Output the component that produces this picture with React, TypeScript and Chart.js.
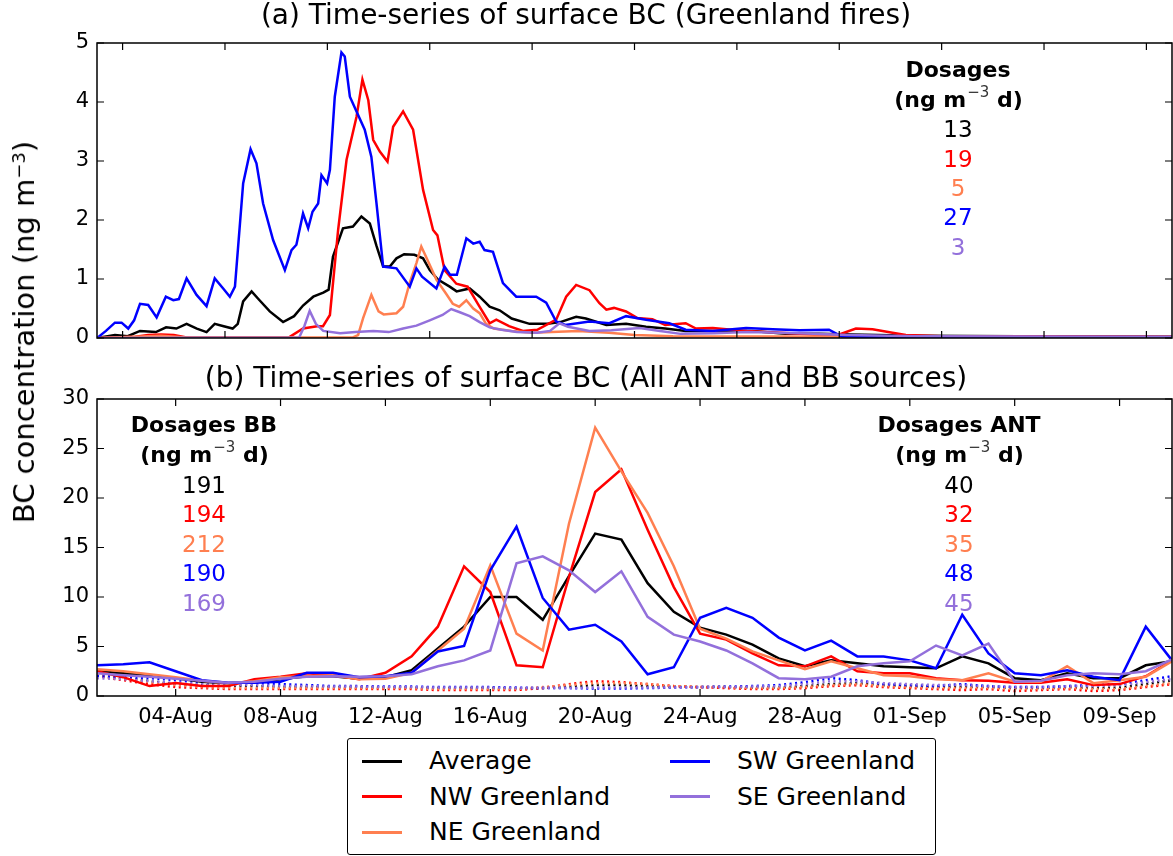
import React, { useEffect, useRef } from "react";
import { Chart, registerables } from "chart.js";

Chart.register(...registerables);

const FAMILY = "'DejaVu Sans', 'Bitstream Vera Sans', sans-serif";

const seriesNames = ["Average", "NW Greenland", "NE Greenland", "SW Greenland", "SE Greenland"];
const seriesColors = ["#000000", "#ff0000", "#ff7f50", "#0000ff", "#9370db"];

// ---------- Panel (a): Greenland fires (day since start, ng m-3) ----------
const fireAverage: [number, number][] = [
  [0, 0], [0.7, 0.05], [1.2, 0.03], [1.68, 0.12], [2.3, 0.1], [2.7, 0.18], [3.1, 0.16], [3.5, 0.24],
  [3.9, 0.16], [4.28, 0.1], [4.6, 0.24], [4.95, 0.2], [5.3, 0.16], [5.5, 0.24], [5.71, 0.62], [6.04, 0.79],
  [6.35, 0.64], [6.75, 0.45], [7.27, 0.27], [7.7, 0.37], [8.05, 0.55], [8.45, 0.7], [8.84, 0.77], [9.05, 0.82],
  [9.22, 1.38], [9.61, 1.86], [10.0, 1.89], [10.33, 2.06], [10.66, 1.94], [10.92, 1.56], [11.18, 1.21],
  [11.44, 1.21], [11.7, 1.35], [12.0, 1.42], [12.4, 1.41], [12.74, 1.35], [13.0, 1.15], [13.32, 0.99],
  [13.78, 0.87], [14.05, 0.79], [14.56, 0.84], [14.95, 0.7], [15.34, 0.53], [15.73, 0.47], [16.2, 0.33],
  [16.9, 0.24], [17.6, 0.24], [18.1, 0.27], [18.72, 0.36], [19.1, 0.33], [19.9, 0.22], [20.67, 0.24],
  [21.45, 0.19], [22.2, 0.16], [23.0, 0.12], [24.3, 0.12], [25.6, 0.12], [26.9, 0.07], [28.2, 0.07],
  [29.5, 0.06], [32, 0.04], [36, 0.03], [42, 0.02],
];
const fireNW: [number, number][] = [
  [0, 0], [1.5, 0.02], [2.0, 0.05], [2.5, 0.06], [3.0, 0.05], [3.5, 0.01], [7.5, 0.01], [8.05, 0.16],
  [8.6, 0.2], [8.83, 0.2], [9.1, 0.39], [9.42, 1.83], [9.75, 3.02], [10.14, 3.75], [10.37, 4.38], [10.6, 4.03],
  [10.79, 3.36], [11.05, 3.16], [11.35, 2.99], [11.57, 3.58], [11.96, 3.84], [12.35, 3.53], [12.74, 2.51],
  [13.13, 1.83], [13.3, 1.74], [13.58, 1.15], [14.04, 0.92], [14.48, 0.87], [14.88, 0.58], [15.34, 0.25],
  [15.6, 0.31], [16.1, 0.2], [16.64, 0.12], [17.2, 0.14], [17.94, 0.31], [18.33, 0.7], [18.72, 0.9],
  [19.24, 0.81], [19.63, 0.59], [19.9, 0.48], [20.2, 0.51], [20.67, 0.45], [21.1, 0.34], [21.7, 0.32],
  [22.2, 0.22], [23.0, 0.25], [23.4, 0.16], [24.06, 0.17], [24.8, 0.14], [25.4, 0.12], [26.7, 0.09],
  [28.0, 0.06], [29.0, 0.06], [29.65, 0.16], [30.3, 0.15], [31.08, 0.09], [31.6, 0.05], [33, 0.03],
  [36, 0.03], [42, 0.02],
];
const fireNE: [number, number][] = [
  [0, 0], [1.5, 0.02], [2.5, 0.04], [3.5, 0.01], [10.0, 0.01], [10.2, 0.05], [10.4, 0.34], [10.72, 0.73],
  [11.0, 0.45], [11.2, 0.4], [11.7, 0.42], [11.96, 0.53], [12.22, 0.94], [12.48, 1.27], [12.67, 1.55],
  [12.85, 1.38], [13.26, 0.99], [13.64, 0.75], [13.9, 0.58], [14.15, 0.53], [14.43, 0.64], [14.7, 0.5],
  [14.95, 0.42], [15.2, 0.24], [15.5, 0.16], [16.2, 0.12], [17.0, 0.09], [18.8, 0.12], [20.0, 0.09],
  [21.0, 0.05], [22.5, 0.03], [30, 0.02], [42, 0.01],
];
const fireSW: [number, number][] = [
  [0, 0], [0.35, 0.12], [0.7, 0.26], [0.96, 0.26], [1.22, 0.16], [1.45, 0.3], [1.68, 0.58], [2.0, 0.56],
  [2.33, 0.35], [2.69, 0.7], [2.98, 0.64], [3.2, 0.66], [3.5, 1.01], [3.89, 0.73], [4.28, 0.54], [4.6, 1.01],
  [4.93, 0.84], [5.19, 0.7], [5.39, 0.87], [5.71, 2.62], [6.0, 3.2], [6.23, 2.96], [6.49, 2.28], [6.88, 1.66],
  [7.34, 1.15], [7.6, 1.49], [7.79, 1.58], [8.05, 2.11], [8.25, 1.86], [8.42, 2.14], [8.64, 2.28],
  [8.77, 2.76], [8.99, 2.62], [9.1, 2.85], [9.29, 4.09], [9.55, 4.84], [9.68, 4.77], [9.88, 4.09],
  [10.14, 3.84], [10.46, 3.53], [10.72, 3.07], [10.92, 2.28], [11.18, 1.21], [11.7, 1.18], [12.22, 0.87],
  [12.48, 1.18], [12.7, 1.04], [13.26, 0.84], [13.58, 1.21], [13.8, 1.07], [14.06, 1.07], [14.43, 1.69],
  [14.7, 1.6], [14.95, 1.63], [15.14, 1.49], [15.47, 1.46], [15.86, 0.93], [16.38, 0.7], [17.16, 0.7],
  [17.55, 0.6], [17.94, 0.28], [18.3, 0.22], [19.24, 0.28], [20.02, 0.25], [20.67, 0.37], [21.45, 0.31],
  [22.36, 0.25], [23.0, 0.14], [24.06, 0.12], [25.36, 0.17], [26.4, 0.15], [27.44, 0.13], [28.6, 0.14],
  [28.9, 0.07], [29.1, 0.03], [30, 0.02], [35, 0.01], [42, 0.01],
];
const fireSE: [number, number][] = [
  [0, 0], [7.9, 0.01], [8.1, 0.2], [8.31, 0.46], [8.55, 0.24], [8.84, 0.12], [9.5, 0.08], [10.1, 0.1],
  [10.8, 0.12], [11.4, 0.1], [11.96, 0.16], [12.48, 0.21], [13.0, 0.3], [13.5, 0.39], [13.84, 0.49],
  [14.15, 0.44], [14.56, 0.37], [14.95, 0.27], [15.34, 0.18], [15.8, 0.14], [16.4, 0.1], [17.2, 0.09],
  [17.7, 0.12], [18.07, 0.25], [18.4, 0.19], [19.24, 0.12], [20.1, 0.13], [21.2, 0.17], [22.0, 0.12],
  [22.8, 0.07], [24.1, 0.08], [25.4, 0.1], [26.7, 0.09], [28.0, 0.07], [29.3, 0.05], [32, 0.03], [42, 0.02],
];
const fireSeries = [fireAverage, fireNW, fireNE, fireSW, fireSE];

const dosagesFire = [13, 19, 5, 27, 3];
const dosagesBB = [191, 194, 212, 190, 169];
const dosagesANT = [40, 32, 35, 48, 45];

const xTicksA = [1, 5, 9, 13, 17, 21, 25, 29, 33, 37, 41];
const yTicksA = [0, 1, 2, 3, 4, 5];

// ---------- Panel (b): daily values from 01-Aug (index 0) to 11-Sep (index 41) ----------
const totalAverage = [2.5, 2.3, 2.1, 1.8, 1.45, 1.3, 1.4, 1.7, 2.0, 2.0, 1.75, 1.9, 2.6, 4.8, 7.0, 10.0, 10.0, 7.7,
  12.1, 16.4, 15.8, 11.4, 8.5, 6.9, 6.2, 5.2, 3.8, 3.0, 3.6, 3.3, 3.0, 2.9, 2.8, 4.0, 3.3, 1.8, 1.6, 2.3, 1.8, 1.8, 3.1, 3.5];
const totalNW = [2.5, 1.9, 1.0, 1.3, 1.0, 1.0, 1.7, 1.95, 2.3, 2.1, 1.7, 2.35, 4.0, 7.0, 13.1, 10.5, 3.1, 2.9,
  12.0, 20.6, 22.9, 16.8, 11.0, 6.3, 5.7, 4.3, 3.1, 3.0, 4.0, 2.5, 2.3, 2.3, 1.8, 1.6, 1.55, 1.35, 1.35, 1.7, 1.1, 1.2, 2.0, 3.6];
const totalNE = [2.7, 2.5, 2.2, 1.9, 1.55, 1.3, 1.5, 1.9, 2.0, 2.1, 1.7, 1.75, 2.35, 4.6, 6.8, 13.2, 6.3, 4.6,
  17.4, 27.1, 22.7, 18.5, 13.1, 6.8, 5.8, 4.5, 3.6, 2.7, 3.5, 2.8, 2.1, 2.0, 1.7, 1.6, 2.3, 1.45, 1.45, 3.0, 1.3, 1.6, 1.95, 3.5];
const totalSW = [3.1, 3.2, 3.4, 2.5, 1.6, 1.35, 1.35, 1.45, 2.35, 2.35, 1.9, 2.0, 2.35, 4.5, 5.05, 12.7, 17.1, 9.9,
  6.7, 7.2, 5.5, 2.2, 2.9, 7.9, 8.9, 7.9, 5.9, 4.6, 5.6, 4.0, 4.0, 3.6, 2.8, 8.2, 4.3, 2.3, 2.1, 2.6, 1.95, 1.6, 7.0, 3.6];
const totalSE = [2.3, 2.1, 1.95, 1.75, 1.55, 1.35, 1.45, 1.75, 1.95, 2.0, 1.95, 2.0, 2.2, 3.0, 3.6, 4.6, 13.4, 14.1,
  12.7, 10.5, 12.6, 8.0, 6.2, 5.5, 4.6, 3.3, 1.8, 1.7, 1.95, 3.0, 3.3, 3.5, 5.1, 4.1, 5.3, 1.45, 1.55, 2.1, 2.3, 2.2, 2.5, 3.7];
const totalSeries = [totalAverage, totalNW, totalNE, totalSW, totalSE];

const antAverage = [2.1, 1.8, 1.5, 1.2, 1.1, 1.0, 1.0, 0.95, 0.9, 0.9, 0.85, 0.85, 0.85, 0.8, 0.8, 0.8, 0.75, 0.8,
  0.95, 1.1, 1.1, 1.0, 0.95, 0.9, 0.9, 0.85, 0.85, 1.0, 1.2, 1.3, 1.1, 1.0, 0.9, 0.9, 0.9, 0.8, 0.8, 0.9, 0.8, 0.85, 1.2, 1.6];
const antNW = [2.0, 1.6, 1.2, 0.9, 0.8, 0.7, 0.7, 0.7, 0.7, 0.7, 0.7, 0.7, 0.7, 0.6, 0.6, 0.6, 0.6, 0.8,
  1.2, 1.5, 1.4, 1.2, 1.0, 0.9, 0.8, 0.7, 0.7, 0.8, 1.0, 1.1, 0.9, 0.8, 0.7, 0.6, 0.7, 0.5, 0.6, 0.7, 0.5, 0.6, 0.9, 1.2];
const antNE = [2.1, 1.8, 1.4, 1.1, 0.9, 0.8, 0.8, 0.8, 0.8, 0.8, 0.8, 0.8, 0.8, 0.7, 0.7, 0.7, 0.7, 0.9,
  1.1, 1.3, 1.3, 1.2, 1.0, 0.9, 0.9, 0.8, 0.8, 0.9, 1.1, 1.2, 1.0, 0.9, 0.8, 0.8, 0.8, 0.7, 0.7, 0.8, 0.7, 0.7, 1.0, 1.3];
const antSW = [2.0, 1.9, 1.8, 1.6, 1.4, 1.3, 1.3, 1.2, 1.1, 1.0, 1.0, 0.95, 0.95, 0.9, 0.9, 0.9, 0.85, 0.8,
  0.8, 0.75, 0.75, 0.8, 0.85, 0.9, 0.95, 1.0, 1.1, 1.4, 1.8, 1.6, 1.2, 1.1, 1.0, 1.2, 1.0, 0.9, 0.9, 1.0, 1.1, 1.2, 1.6, 2.0];
const antSE = [1.8, 1.7, 1.5, 1.3, 1.2, 1.1, 1.1, 1.0, 1.0, 0.95, 0.95, 0.9, 0.9, 0.85, 0.85, 0.85, 0.8, 0.8,
  0.8, 0.85, 0.85, 0.85, 0.85, 0.9, 0.9, 0.95, 1.0, 1.2, 1.5, 1.5, 1.3, 1.2, 1.1, 1.1, 1.0, 0.9, 0.9, 1.0, 1.0, 1.1, 1.4, 1.7];
const antSeries = [antAverage, antNW, antNE, antSW, antSE];

const xTicksB = [3, 7, 11, 15, 19, 23, 27, 31, 35, 39];
const xTickLabelsB = ["04-Aug", "08-Aug", "12-Aug", "16-Aug", "20-Aug", "24-Aug", "28-Aug", "01-Sep", "05-Sep", "09-Sep"];
const yTicksB = [0, 5, 10, 15, 20, 25, 30];

const titleA = "(a) Time-series of surface BC (Greenland fires)";
const titleB = "(b) Time-series of surface BC (All ANT and BB sources)";

// ---------- helpers ----------
function frameTicksPlugin(xTicks: number[], yTicks: number[]) {
  return {
    id: "frameTicks",
    afterDatasetsDraw(chart: any) {
      const { ctx, chartArea: a, scales } = chart;
      const L = 7;
      ctx.save();
      ctx.strokeStyle = "#000";
      ctx.lineWidth = 1.2;
      ctx.beginPath();
      xTicks.forEach((v) => {
        const x = scales.x.getPixelForValue(v);
        ctx.moveTo(x, a.bottom);
        ctx.lineTo(x, a.bottom - L);
        ctx.moveTo(x, a.top);
        ctx.lineTo(x, a.top + L);
      });
      yTicks.forEach((v) => {
        const y = scales.y.getPixelForValue(v);
        ctx.moveTo(a.left, y);
        ctx.lineTo(a.left + L, y);
        ctx.moveTo(a.right, y);
        ctx.lineTo(a.right - L, y);
      });
      ctx.stroke();
      ctx.lineWidth = 1.5;
      ctx.strokeRect(a.left, a.top, a.right - a.left, a.bottom - a.top);
      ctx.restore();
    },
  };
}

function drawDosageBlock(ctx: CanvasRenderingContext2D, cx: number, yHead: number, heading: string, values: number[], step: number) {
  const bold = `bold 22px ${FAMILY}`;
  const small = `15px ${FAMILY}`;
  ctx.save();
  ctx.textBaseline = "middle";
  ctx.fillStyle = "#000";
  ctx.textAlign = "center";
  ctx.font = bold;
  ctx.fillText(heading, cx, yHead);
  const yUnits = yHead + step;
  const p1 = "(ng m";
  const sup = "\u22123";
  const p2 = " d)";
  ctx.font = bold;
  const w1 = ctx.measureText(p1).width;
  const w3 = ctx.measureText(p2).width;
  ctx.font = small;
  const w2 = ctx.measureText(sup).width;
  let x = cx - (w1 + w2 + w3) / 2;
  ctx.textAlign = "left";
  ctx.font = bold;
  ctx.fillText(p1, x, yUnits);
  x += w1;
  ctx.font = small;
  ctx.fillStyle = "#333";
  ctx.fillText(sup, x + 1, yUnits - 8);
  x += w2 + 1;
  ctx.fillStyle = "#000";
  ctx.font = bold;
  ctx.fillText(p2, x, yUnits);
  ctx.textAlign = "center";
  ctx.font = `23px ${FAMILY}`;
  values.forEach((v, i) => {
    ctx.fillStyle = seriesColors[i];
    ctx.fillText(String(v), cx, yHead + step * (i + 2) + 1);
  });
  ctx.restore();
}

const tickFont = { family: FAMILY, size: 21 };
const titleFont = { family: FAMILY, size: 28, weight: "normal" as const };

export default function App() {
  const refA = useRef<HTMLCanvasElement>(null);
  const refB = useRef<HTMLCanvasElement>(null);

  useEffect(() => {
    const order = [5, 4, 3, 2, 1];
    const chartA = new Chart(refA.current!, {
      type: "line",
      data: {
        datasets: fireSeries.map((s, i) => ({
          label: seriesNames[i],
          data: s.map(([x, y]) => ({ x, y })),
          borderColor: seriesColors[i],
          backgroundColor: seriesColors[i],
          borderWidth: 2.5,
          pointRadius: 0,
          tension: 0,
          order: order[i],
        })),
      },
      options: {
        responsive: false,
        animation: false,
        layout: { padding: { left: 0, right: 1, top: 0, bottom: 0 } },
        plugins: {
          legend: { display: false },
          tooltip: { enabled: false },
          title: {
            display: true,
            text: titleA,
            color: "#000",
            font: titleFont,
            padding: { top: 0, bottom: 9.4 },
          },
        },
        scales: {
          x: {
            type: "linear",
            min: 0,
            max: 42,
            grid: { display: false, drawTicks: false },
            border: { display: false },
            ticks: { display: false },
            afterFit: (s: any) => { s.height = 22; },
          },
          y: {
            type: "linear",
            min: 0,
            max: 5,
            grid: { display: false, drawTicks: false },
            border: { display: false },
            ticks: { stepSize: 1, color: "#000", font: tickFont, padding: 8 },
            afterFit: (s: any) => { s.width = 97; },
          },
        },
      },
      plugins: [
        frameTicksPlugin(xTicksA, yTicksA),
        {
          id: "dosagesA",
          afterDraw(chart: any) {
            drawDosageBlock(chart.ctx, 958, 71.5, "Dosages", dosagesFire, 29.4);
          },
        },
      ],
    } as any);

    const solid = totalSeries.map((s, i) => ({
      label: seriesNames[i],
      data: s.map((y, d) => ({ x: d, y })),
      borderColor: seriesColors[i],
      backgroundColor: seriesColors[i],
      borderWidth: 2.5,
      pointRadius: 0,
      tension: 0,
      order: order[i],
    }));
    const dotted = antSeries.map((s, i) => ({
      label: seriesNames[i] + " ANT",
      data: s.map((y, d) => ({ x: d, y })),
      borderColor: seriesColors[i],
      backgroundColor: seriesColors[i],
      borderWidth: 2.5,
      borderDash: [2, 3.5],
      pointRadius: 0,
      tension: 0,
      order: 10 + order[i],
    }));

    const chartB = new Chart(refB.current!, {
      type: "line",
      data: { datasets: [...solid, ...dotted] },
      options: {
        responsive: false,
        animation: false,
        layout: { padding: { left: 0, right: 1, top: 0, bottom: 0 } },
        plugins: {
          legend: { display: false },
          tooltip: { enabled: false },
          title: {
            display: true,
            text: titleB,
            color: "#000",
            font: titleFont,
            padding: { top: 3.2, bottom: 2.2 },
          },
        },
        scales: {
          x: {
            type: "linear",
            min: 0,
            max: 41,
            grid: { display: false, drawTicks: false },
            border: { display: false },
            afterBuildTicks: (s: any) => { s.ticks = xTicksB.map((v) => ({ value: v })); },
            ticks: {
              autoSkip: false,
              maxRotation: 0,
              color: "#000",
              font: tickFont,
              padding: 9,
              callback: (v: any) => {
                const k = xTicksB.indexOf(Number(v));
                return k >= 0 ? xTickLabelsB[k] : "";
              },
            },
            afterFit: (s: any) => { s.height = 39; },
          },
          y: {
            type: "linear",
            min: 0,
            max: 30,
            grid: { display: false, drawTicks: false },
            border: { display: false },
            ticks: { stepSize: 5, color: "#000", font: tickFont, padding: 8 },
            afterFit: (s: any) => { s.width = 97; },
          },
        },
      },
      plugins: [
        frameTicksPlugin(xTicksB, yTicksB),
        {
          id: "dosagesB",
          afterDraw(chart: any) {
            drawDosageBlock(chart.ctx, 204, 66.5, "Dosages BB", dosagesBB, 29.6);
            drawDosageBlock(chart.ctx, 959, 66.5, "Dosages ANT", dosagesANT, 29.6);
          },
        },
      ],
    } as any);

    return () => {
      chartA.destroy();
      chartB.destroy();
    };
  }, []);

  const legendCol1 = [0, 1, 2];
  const legendCol2 = [3, 4];
  const item = (i: number, left: number, row: number) => (
    <div key={i} style={{ position: "absolute", left, top: 22 + row * 35.5 - 15, height: 30, display: "flex", alignItems: "center" }}>
      <div style={{ width: 40, height: 3, background: seriesColors[i] }} />
      <span style={{ marginLeft: 27, fontSize: 25, fontFamily: FAMILY, color: "#000", whiteSpace: "nowrap", lineHeight: "30px" }}>
        {seriesNames[i]}
      </span>
    </div>
  );

  return (
    <div style={{ position: "absolute", left: 0, top: 0, width: 1173, height: 856, background: "#fff", overflow: "hidden" }}>
      <canvas ref={refA} width={1173} height={360} style={{ position: "absolute", left: 0, top: 0, display: "block" }} />
      <canvas ref={refB} width={1173} height={375} style={{ position: "absolute", left: 0, top: 360, display: "block" }} />
      <div
        style={{
          position: "absolute",
          left: 24,
          top: 332,
          transform: "translate(-50%, -50%) rotate(-90deg)",
          fontFamily: FAMILY,
          fontSize: 29,
          color: "#000",
          whiteSpace: "nowrap",
          lineHeight: "34px",
        }}
      >
        BC concentration (ng m<sup style={{ fontSize: 18, verticalAlign: "9px", lineHeight: 0 }}>−3</sup>)
      </div>
      <div
        style={{
          position: "absolute",
          left: 347,
          top: 738,
          width: 589,
          height: 117,
          border: "1.5px solid #000",
          borderRadius: 3,
          boxSizing: "border-box",
          background: "#fff",
        }}
      >
        {legendCol1.map((i, r) => item(i, 14, r))}
        {legendCol2.map((i, r) => item(i, 322, r))}
      </div>
    </div>
  );
}
